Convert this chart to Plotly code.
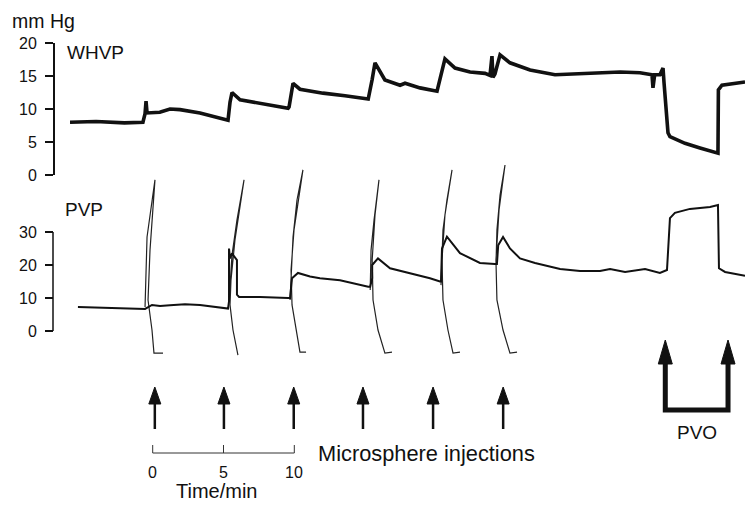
import plotly.graph_objects as go

# ---------------- data (time in min, pressure in mm Hg) ----------------
whvp_t = [-5.84, -4.0, -2.0, -0.69, -0.54, -0.47, -0.40, 0.50, 1.22, 1.93, 3.34, 4.40,
          5.32, 5.46, 5.60, 6.17, 7.58, 8.29, 9.56, 9.63, 9.91, 10.40, 12.03, 13.58,
          15.00, 15.22, 15.50, 15.70, 16.40, 17.47, 17.82, 18.88, 20.08, 20.50, 20.64,
          21.35, 22.41, 23.47, 23.82, 23.96, 24.03, 24.17, 24.53, 25.23, 26.65, 28.41,
          30.18, 33.01, 34.41, 35.26, 35.33, 35.45, 35.82, 36.04, 36.11, 36.25, 36.39,
          36.53, 37.59, 38.65, 39.92, 39.95, 40.20, 41.83]
whvp_v = [8.0, 8.1, 7.9, 8.0, 9.3, 11.2, 9.4, 9.5, 10.0, 9.9, 9.4, 8.8,
          8.3, 11.0, 12.5, 11.4, 10.9, 10.6, 10.1, 10.3, 13.9, 13.0, 12.4, 12.0,
          11.6, 11.5, 14.5, 17.0, 14.4, 13.6, 13.9, 13.2, 12.7, 16.5, 17.6,
          16.2, 15.6, 15.4, 15.1, 18.0, 14.8, 15.3, 18.2, 17.0, 15.9, 15.2,
          15.4, 15.6, 15.5, 15.2, 13.2, 15.2, 15.2, 16.2, 14.0, 9.4, 6.4,
          5.8, 4.8, 4.1, 3.3, 12.9, 13.6, 14.1]

pvp_t = [-5.28, -3.0, -1.0, -0.54, -0.05, 0.52, 1.22, 2.28, 3.34, 4.40, 5.32, 5.39, 5.39,
         5.46, 5.60, 5.95, 5.95, 6.10, 7.58, 9.56, 9.70, 9.84, 10.26, 11.11, 11.81, 13.23,
         14.65, 15.22, 15.36, 15.50, 15.50, 15.91, 16.76, 18.17, 19.58, 20.29, 20.36, 20.43,
         20.78, 21.70, 22.41, 23.11, 24.17, 24.31, 24.40, 24.74, 25.23, 25.94, 27.00, 28.77,
         30.18, 31.59, 32.30, 33.36, 34.77, 35.82, 36.32, 36.53, 36.88, 37.94, 39.36, 39.92,
         39.99, 40.42, 41.83]
pvp_v = [7.3, 7.1, 6.9, 6.7, 7.9, 7.6, 7.8, 8.1, 7.9, 7.3, 6.8, 9.0, 25.0,
         22.0, 23.5, 21.5, 11.0, 10.3, 10.3, 10.0, 10.0, 16.0, 17.6, 16.5, 16.0, 15.4,
         13.9, 13.4, 13.4, 16.0, 20.0, 22.0, 19.0, 17.6, 16.0, 15.0, 15.0, 25.0,
         28.6, 23.6, 22.0, 20.6, 20.3, 20.3, 26.0, 28.5, 25.0, 22.0, 20.6, 18.8,
         18.2, 18.2, 18.8, 17.9, 18.8, 17.6, 18.5, 34.2, 35.8, 37.0, 37.6, 38.2,
         19.0, 17.9, 16.7]

# flushing artefacts on the PVP record at each injection
artefact_t = [
    [-0.54, -0.40, 0.16, -0.19, -0.33, -0.05, 0.09, 0.73],
    [5.39, 5.60, 5.95, 6.45, 5.81, 5.53, 5.46, 5.67, 6.02],
    [9.70, 9.91, 10.19, 10.61, 9.98, 9.77, 9.84, 10.12, 10.40, 10.83],
    [15.36, 15.42, 15.63, 15.98, 15.70, 15.50, 15.56, 15.91, 16.40, 16.90],
    [20.36, 20.50, 20.78, 21.14, 20.64, 20.43, 20.50, 20.85, 21.21, 21.70],
    [24.24, 24.31, 24.53, 24.88, 24.46, 24.24, 24.31, 24.74, 25.23, 25.73],
]
artefact_v = [
    [7.3, 28.5, 45.8, 24.5, 9.4, 0.3, -6.7, -6.7],
    [9.0, 23.0, 33.6, 45.8, 27.6, 15.5, 7.9, 0.3, -7.3],
    [9.4, 28.5, 39.7, 48.8, 30.6, 18.5, 7.9, 0.3, -6.4, -6.4],
    [12.4, 24.5, 33.6, 45.8, 35.2, 21.5, 9.4, 0.3, -6.7, -6.4],
    [13.9, 30.6, 39.7, 48.8, 35.2, 21.5, 9.4, 0.3, -6.7, -6.4],
    [20.0, 30.6, 41.2, 50.3, 36.7, 21.5, 9.4, 0.3, -6.7, -6.4],
]

injection_times = [0.15, 5.03, 9.96, 14.85, 19.8, 24.75]   # microsphere injections
pvo_times = [36.2, 40.63]                                  # portal vein occlusion on / off
time_ticks = [0, 5, 10]
whvp_ticks = [0, 5, 10, 15, 20]
pvp_ticks = [0, 10, 20, 30]

# ---------------- layout helpers ----------------
W, H = 745, 508
FONT = "Liberation Sans, Arial, Helvetica, sans-serif"
INK = "#111111"


def px_x(p):
    return p / W


def px_y(p):
    return 1 - p / H


X_PER_MIN = 14.16
X_ORIGIN = 152.7
x_range = [-X_ORIGIN / X_PER_MIN, (W - X_ORIGIN) / X_PER_MIN]

fig = go.Figure()

fig.add_trace(go.Scatter(x=whvp_t, y=whvp_v, mode="lines", yaxis="y",
                         line=dict(color=INK, width=3.6), hoverinfo="skip"))

art_x, art_y = [], []
for ts, vs in zip(artefact_t, artefact_v):
    art_x += ts + [None]
    art_y += vs + [None]
fig.add_trace(go.Scatter(x=art_x, y=art_y, mode="lines", yaxis="y2",
                         line=dict(color="#222222", width=1.2), hoverinfo="skip"))
fig.add_trace(go.Scatter(x=pvp_t, y=pvp_v, mode="lines", yaxis="y2",
                         line=dict(color=INK, width=2), hoverinfo="skip"))

axis_common = dict(anchor="free", position=px_x(53), showgrid=False, zeroline=False,
                   ticks="outside", ticklen=8, tickwidth=1.5, tickcolor=INK,
                   tickfont=dict(family=FONT, size=16, color=INK),
                   ticklabelstandoff=5, automargin=False, fixedrange=True)

fig.update_layout(
    width=W, height=H,
    margin=dict(l=0, r=0, t=0, b=0),
    paper_bgcolor="white", plot_bgcolor="rgba(0,0,0,0)",
    showlegend=False,
    xaxis=dict(range=x_range, domain=[0, 1], visible=False, fixedrange=True),
    yaxis=dict(domain=[px_y(175), px_y(43)], range=[0, 20], tickvals=whvp_ticks,
               showline=True, linewidth=1.5, linecolor=INK, **axis_common),
    yaxis2=dict(domain=[px_y(364), px_y(159.4)], range=[-10, 52], tickvals=pvp_ticks,
                showline=False, **axis_common),
)

shapes = []
# PVP axis line (0-30 only)
shapes.append(dict(type="line", xref="paper", yref="y2", x0=px_x(53), x1=px_x(53),
                   y0=pvp_ticks[0], y1=pvp_ticks[-1], line=dict(color=INK, width=1.5)))

# time scale bar
shapes.append(dict(type="line", xref="x", yref="paper", x0=time_ticks[0], x1=time_ticks[-1],
                   y0=px_y(453), y1=px_y(453), line=dict(color="#333333", width=1)))
for t in time_ticks:
    shapes.append(dict(type="line", xref="x", yref="paper", x0=t, x1=t,
                       y0=px_y(453), y1=px_y(445), line=dict(color="#333333", width=1)))


def arrow_head(t, y_base_px, y_tip_px, half_w_px):
    hw = half_w_px / X_PER_MIN
    path = (f"M {t - hw},{px_y(y_base_px)} L {t},{px_y(y_tip_px)} "
            f"L {t + hw},{px_y(y_base_px)} Z")
    return dict(type="path", xref="x", yref="paper", path=path,
                fillcolor=INK, line=dict(color=INK, width=1))


# microsphere injection arrows
for t in injection_times:
    shapes.append(dict(type="line", xref="x", yref="paper", x0=t, x1=t,
                       y0=px_y(429), y1=px_y(402), line=dict(color=INK, width=2.5)))
    shapes.append(arrow_head(t, 404, 387, 6))

# PVO bracket with arrows
t1, t2 = pvo_times
shapes.append(dict(type="path", xref="x", yref="paper",
                   path=(f"M {t1},{px_y(360)} L {t1},{px_y(410)} "
                         f"L {t2},{px_y(410)} L {t2},{px_y(360)}"),
                   line=dict(color=INK, width=5)))
for t in pvo_times:
    shapes.append(arrow_head(t, 364, 340, 7))

fig.update_layout(shapes=shapes)


def label(text, x, y, size=19, xanchor="left", xref="paper"):
    fig.add_annotation(text=text, x=x, y=y, xref=xref, yref="paper", showarrow=False,
                       xanchor=xanchor, yanchor="middle", borderpad=0,
                       font=dict(family=FONT, size=size, color=INK))


label("mm Hg", px_x(11), px_y(21), size=19.5)
label("WHVP", px_x(66), px_y(52))
label("PVP", px_x(64), px_y(210))
label("Microsphere injections", px_x(317), px_y(453), size=21.8)
label("Time/min", px_x(217), px_y(491), size=20, xanchor="center")
label("PVO", px_x(697), px_y(432), xanchor="center")
for t in time_ticks:
    label(str(t), t, px_y(472), size=16, xanchor="center", xref="x")

fig.write_html("out.html",
               config={"displayModeBar": False, "staticPlot": True},
               post_script="document.body.style.margin='0';"
                           "document.body.style.overflow='hidden';")
